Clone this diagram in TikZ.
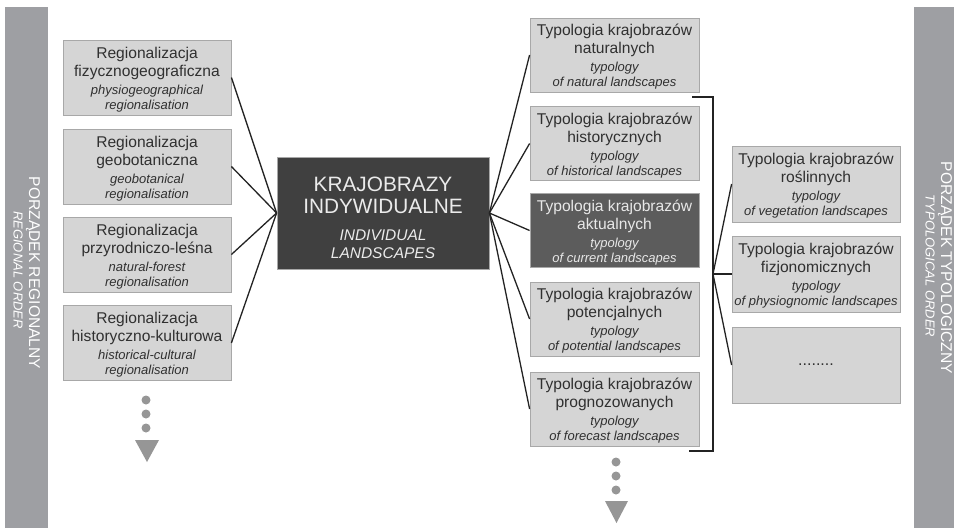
\documentclass[tikz,border=0pt]{standalone}
\usepackage{fontspec}
\setmainfont{Liberation Sans}
\definecolor{boxfill}{RGB}{213,213,213}
\definecolor{boxline}{RGB}{168,168,168}
\definecolor{darkA}{RGB}{64,64,64}
\definecolor{darkB}{RGB}{92,92,92}
\definecolor{barc}{RGB}{158,159,163}
\definecolor{txt}{RGB}{48,48,48}
\definecolor{dotc}{RGB}{150,150,150}
\definecolor{linec}{RGB}{35,35,35}
\newcommand\entxt[1]{{\fontsize{13}{15}\selectfont\itshape #1}}
\newcommand\topstrut{\rule{0pt}{15.5pt}}
\begin{document}
\begin{tikzpicture}[x=1pt,y=-1pt,
  lbox/.style={draw=boxline, fill=boxfill, line width=0.8pt, minimum width=168pt, minimum height=75pt, inner sep=0pt, align=center, text=txt, font=\fontsize{15.6}{18}\selectfont},
  rbox/.style={lbox, minimum width=169pt, minimum height=74pt},
  sbox/.style={lbox, minimum height=76pt},
  darkbox/.style={fill=darkB, draw=boxline, text={rgb,255:red,232;green,232;blue,232}},
  conn/.style={draw=linec, line width=1.3pt},
  bartxt/.style={rotate=-90, text=white, inner sep=0pt},
]
\useasboundingbox (0,0) rectangle (954,528);
\fill[white] (0,0) rectangle (954,528);
% side bars
\fill[barc] (5,7) rectangle (48,528);
\fill[barc] (914,7) rectangle (954,528);
\node[bartxt, font=\fontsize{15.6}{18}\selectfont] (lbarA) at (33,273) {PORZĄDEK REGIONALNY};
\node[bartxt, font=\fontsize{13}{15}\selectfont\itshape] (lbarB) at (18,270) {REGIONAL ORDER};
\node[bartxt, font=\fontsize{15.6}{18}\selectfont] (rbarA) at (945,268) {PORZĄDEK TYPOLOGICZNY};
\node[bartxt, font=\fontsize{13}{15}\selectfont\itshape] (rbarB) at (930,266) {TYPOLOGICAL ORDER};

% left column
\node[lbox] (l1) at (147,77.5) {\topstrut Regionalizacja\\fizycznogeograficzna\\\entxt{physiogeographical}\\[-3pt]\entxt{regionalisation}};
\node[lbox] (l2) at (147,166.5) {\topstrut Regionalizacja\\geobotaniczna\\\entxt{geobotanical}\\[-3pt]\entxt{regionalisation}};
\node[lbox] (l3) at (147,254.5) {\topstrut Regionalizacja\\przyrodniczo-leśna\\\entxt{natural-forest}\\[-3pt]\entxt{regionalisation}};
\node[lbox] (l4) at (147,343) {\topstrut Regionalizacja\\historyczno-kulturowa\\\entxt{historical-cultural}\\[-3pt]\entxt{regionalisation}};

% centre
\node[draw=boxline, fill=darkA, line width=0.8pt, minimum width=212pt, minimum height=112pt, inner sep=0pt, align=center,
  text={rgb,255:red,235;green,235;blue,235}, font=\fontsize{20.8}{22}\selectfont] (c) at (383,213)
  {\rule{0pt}{25pt}KRAJOBRAZY\\INDYWIDUALNE\\[5pt]{\fontsize{15.5}{18}\selectfont\itshape INDIVIDUAL}\\[-4pt]{\fontsize{15.5}{18}\selectfont\itshape LANDSCAPES}};

% right column
\node[rbox] (r1) at (614.5,55) {\topstrut Typologia krajobrazów\\naturalnych\\\entxt{typology}\\[-3pt]\entxt{of natural landscapes}};
\node[rbox] (r2) at (614.5,143.5) {\topstrut Typologia krajobrazów\\historycznych\\\entxt{typology}\\[-3pt]\entxt{of historical landscapes}};
\node[rbox, darkbox] (r3) at (614.5,230.5) {\topstrut Typologia krajobrazów\\aktualnych\\\entxt{typology}\\[-3pt]\entxt{of current landscapes}};
\node[rbox] (r4) at (614.5,319) {\topstrut Typologia krajobrazów\\potencjalnych\\\entxt{typology}\\[-3pt]\entxt{of potential landscapes}};
\node[rbox] (r5) at (614.5,409) {\topstrut Typologia krajobrazów\\prognozowanych\\\entxt{typology}\\[-3pt]\entxt{of forecast landscapes}};

% far right column
\node[sbox] (s1) at (816,184) {\topstrut Typologia krajobrazów\\roślinnych\\\entxt{typology}\\[-3pt]\entxt{of vegetation landscapes}};
\node[sbox] (s2) at (816,274) {\topstrut Typologia krajobrazów\\fizjonomicznych\\\entxt{typology}\\[-3pt]\entxt{of physiognomic landscapes}};
\node[sbox, font=\fontsize{16}{18}\selectfont] (s3) at (816,365) {........};

% connectors left
\foreach \n in {l1,l2,l3,l4} \draw[conn] (\n.east) -- (c.west);
% connectors right
\foreach \n in {r1,r2,r3,r4,r5} \draw[conn] (c.east) -- (\n.west);

% bracket
\coordinate (bt) at (692,97);
\coordinate (bj) at (713,274);
\coordinate (bb) at (689,451);
\draw[conn] (bt) -| (bj) |- (bb);
\foreach \n in {s1,s2,s3} \draw[conn] (bj) -- (\n.west);

% continuation marks
\foreach \yy in {400,414,428} \fill[dotc] (146,\yy) circle (4.5pt);
\fill[dotc] (135,440) -- (159,440) -- (147,462) -- cycle;
\foreach \yy in {462,476,490} \fill[dotc] (616,\yy) circle (4.5pt);
\fill[dotc] (605,501) -- (628,501) -- (616.5,523) -- cycle;
\end{tikzpicture}
\end{document}
